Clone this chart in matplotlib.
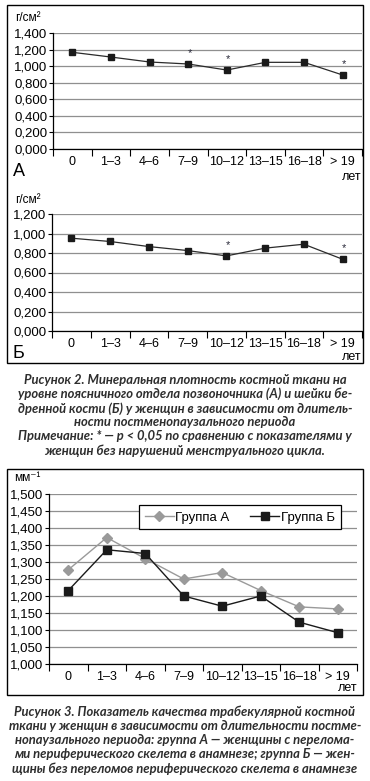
import matplotlib
matplotlib.use("Agg")
from matplotlib import pyplot as plt
from matplotlib.patches import Rectangle
from matplotlib.ticker import FuncFormatter, FixedLocator

categories = ["0", "1–3", "4–6", "7–9", "10–12", "13–15", "16–18", "> 19"]

# Рисунок 2 (А) — поясничный отдел позвоночника
bmd_spine = [1.167, 1.110, 1.050, 1.026, 0.953, 1.046, 1.046, 0.893]
stars_spine = [3, 4, 7]
# Рисунок 2 (Б) — шейка бедренной кости
bmd_hip = [0.952, 0.918, 0.866, 0.825, 0.770, 0.850, 0.890, 0.736]
stars_hip = [4, 7]
# Рисунок 3 — показатель качества трабекулярной кости
group_a = [1.277, 1.372, 1.310, 1.250, 1.269, 1.216, 1.168, 1.162]
group_b = [1.216, 1.336, 1.325, 1.200, 1.170, 1.200, 1.123, 1.092]

W, H = 370, 781
plt.rcParams['font.family'] = ['Liberation Sans', 'DejaVu Sans']

fig = plt.figure(figsize=(W / 100, H / 100), dpi=100)


def px_axes(left, top, right, bottom):
    return fig.add_axes([left / W, 1 - bottom / H, (right - left) / W, (bottom - top) / H])


def px_text(x, y, s, **kw):
    fig.text(x / W, 1 - y / H, s, **kw)


def box(left, top, right, bottom):
    fig.add_artist(Rectangle((left / W, 1 - bottom / H), (right - left) / W, (bottom - top) / H,
                             transform=fig.transFigure, fill=False, lw=1.0, ec="black"))


def style_axes(ax):
    n = len(categories)
    ax.set_xlim(-0.5, n - 0.5)
    ax.set_xticks(range(n))
    ax.set_xticklabels(categories, fontsize=9)
    ax.xaxis.set_minor_locator(FixedLocator([i - 0.5 for i in range(n + 1)]))
    ax.tick_params(axis="x", which="major", length=0, pad=5)
    ax.tick_params(axis="x", which="minor", length=5, width=0.8, direction="out")
    ax.tick_params(axis="y", length=3, width=0.8, pad=1, labelsize=9.5)
    ax.yaxis.set_major_formatter(FuncFormatter(lambda v, p: f"{v:.3f}".replace(".", ",")))
    ax.grid(axis="y", color="#8f8f8f", lw=0.9)
    ax.set_axisbelow(True)
    for s in ("top", "right"):
        ax.spines[s].set_visible(False)
    for s in ("left", "bottom"):
        ax.spines[s].set_linewidth(0.9)


def add_stars(ax, values, idx, offset):
    for i in idx:
        ax.annotate("*", xy=(i, values[i]), xytext=(1, offset), textcoords="offset points",
                    ha="center", va="center", fontsize=8, color="#2a2a3a")


# ---- Рисунок 2, панель А
axA = px_axes(53, 33, 362, 149)
axA.plot(range(len(categories)), bmd_spine, color="#2b2b2b", lw=0.9,
         marker="s", ms=4.2, mfc="#1a1a1a", mec="#1a1a1a")
axA.set_ylim(0, 1.4)
axA.set_yticks([0.2 * i for i in range(8)])
style_axes(axA)
add_stars(axA, bmd_spine, stars_spine, 8)

# ---- Рисунок 2, панель Б
axB = px_axes(52, 214, 362, 331)
axB.plot(range(len(categories)), bmd_hip, color="#2b2b2b", lw=0.9,
         marker="s", ms=4.2, mfc="#1a1a1a", mec="#1a1a1a")
axB.set_ylim(0, 1.2)
axB.set_yticks([0.2 * i for i in range(7)])
style_axes(axB)
add_stars(axB, bmd_hip, stars_hip, 8)

box(7, 5, 363, 363)
px_text(15, 18, "г/см²", fontsize=8.5, va="center", ha="left")
px_text(15, 200, "г/см²", fontsize=8.5, va="center", ha="left")
px_text(13, 172, "А", fontsize=13, va="center", ha="left")
px_text(13, 353, "Б", fontsize=13, va="center", ha="left")
px_text(362, 177, "лет", fontsize=9, va="center", ha="right")
px_text(362, 357, "лет", fontsize=9, va="center", ha="right")

cap_kw = dict(fontsize=9.4, fontweight="bold", fontstyle="italic", color="#2e2e2e",
              ha="center", va="center", family=["Lato", "DejaVu Sans"])
caption2 = [
    "Рисунок 2. Минеральная плотность костной ткани на",
    "уровне поясничного отдела позвоночника (А) и шейки бе-",
    "дренной кости (Б) у женщин в зависимости от длитель-",
    "ности постменопаузального периода",
    "Примечание: * — p < 0,05 по сравнению с показателями у",
    "женщин без нарушений менструального цикла.",
]
for k, line in enumerate(caption2):
    px_text(185, 380 + k * 14.1, line, **cap_kw)

# ---- Рисунок 3
axC = px_axes(49, 494, 357, 664)
x = range(len(categories))
axC.plot(x, group_a, color="#9a9a9a", lw=1.0, marker="D", ms=5,
         mfc="#9a9a9a", mec="#9a9a9a", label="Группа А")
axC.plot(x, group_b, color="#1a1a1a", lw=1.0, marker="s", ms=5.8,
         mfc="#1a1a1a", mec="#1a1a1a", label="Группа Б")
axC.set_ylim(1.0, 1.5)
axC.set_yticks([1.0 + 0.05 * i for i in range(11)])
style_axes(axC)
leg = axC.legend(loc="upper right", bbox_to_anchor=(0.968, 0.972), ncol=2, fontsize=9.5,
                 frameon=True, fancybox=False, edgecolor="black", framealpha=1,
                 handlelength=2.2, handletextpad=0.1, columnspacing=1.6, borderpad=0.45)
leg.get_frame().set_linewidth(0.9)

box(7, 469, 363, 695)
px_text(14, 478, "мм⁻¹", fontsize=8.5, va="center", ha="left")
px_text(357, 688, "лет", fontsize=9, va="center", ha="right")

caption3 = [
    "Рисунок 3. Показатель качества трабекулярной костной",
    "ткани у женщин в зависимости от длительности постме-",
    "нопаузального периода: группа А — женщины с перелома-",
    "ми периферического скелета в анамнезе; группа Б — жен-",
    "щины без переломов периферического скелета в анамнезе",
]
for k, line in enumerate(caption3):
    px_text(185, 712 + k * 14.1, line, **cap_kw)

fig.savefig("out.png", dpi=100)
